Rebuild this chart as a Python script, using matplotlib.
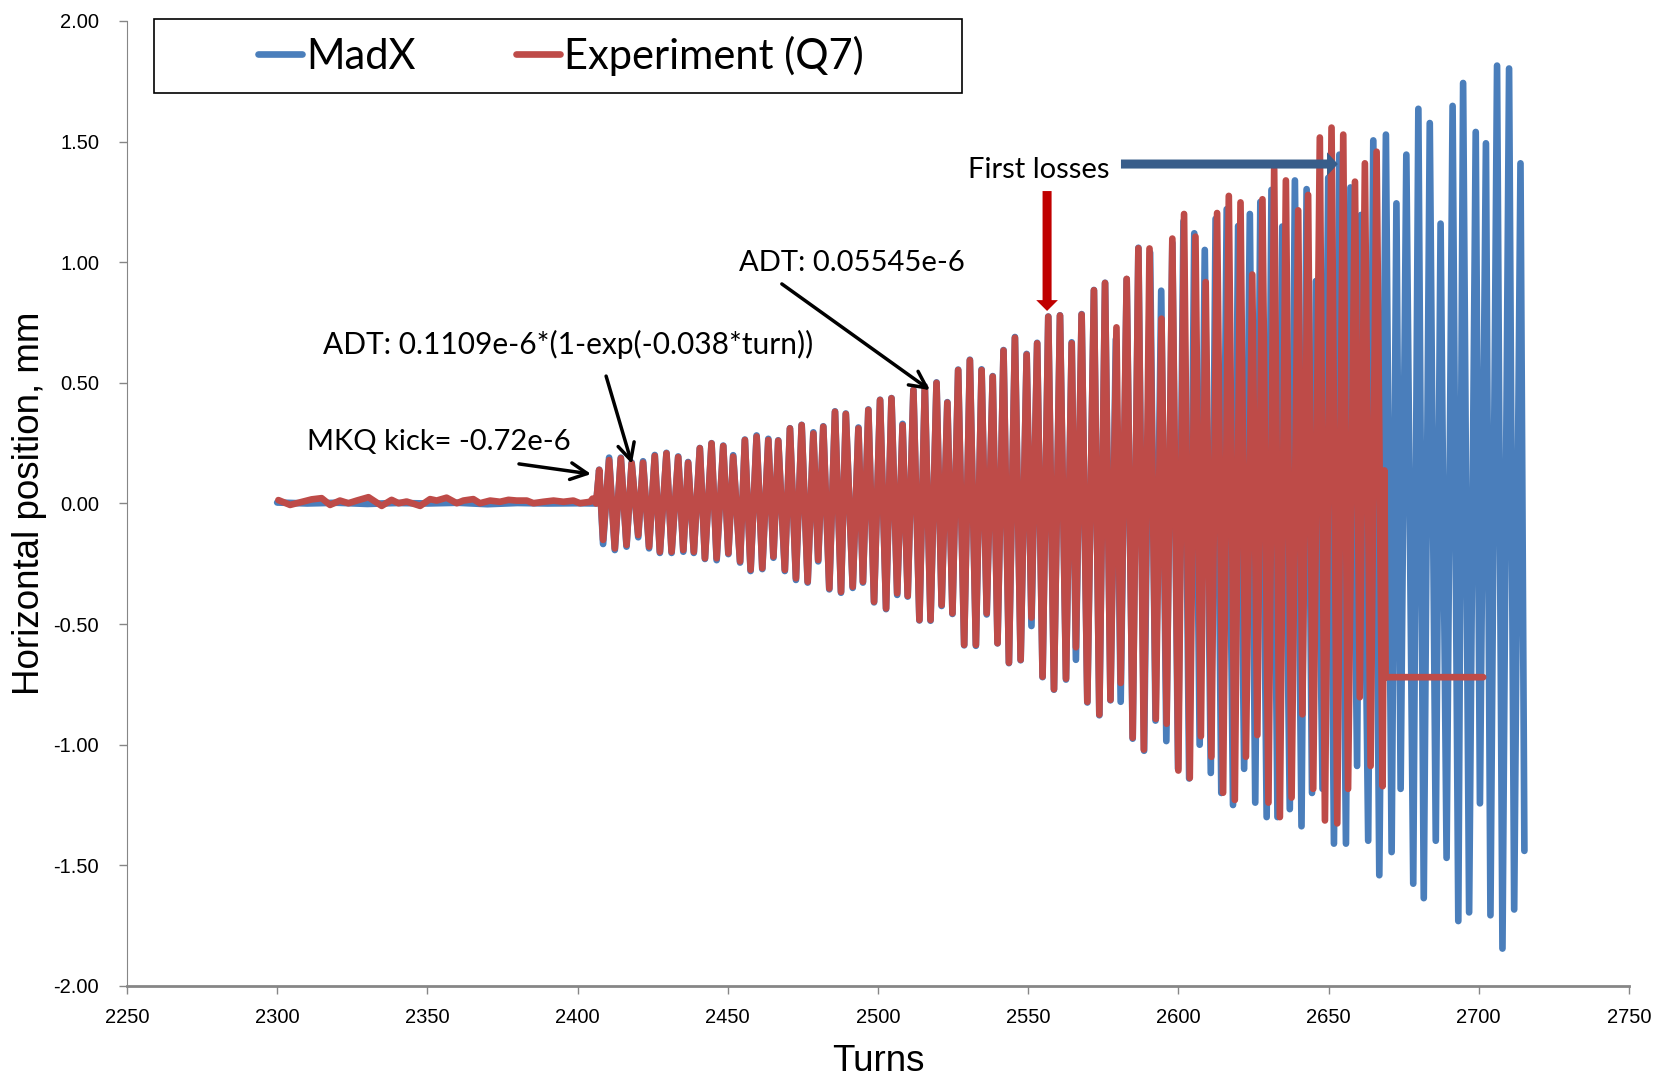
import matplotlib
matplotlib.use("Agg")
import matplotlib.pyplot as plt
from matplotlib.patches import Rectangle

# ---- data (turn, horizontal position in mm) ----
# pre-kick noise of the measured signal
noise_turn = [2300.4, 2304.3, 2308.7, 2311.5, 2314.8, 2317.6, 2320.9, 2323.7, 2326.5, 2330.4,
              2332.6, 2334.8, 2338.1, 2340.4, 2343.1, 2347.6, 2350.9, 2353.1, 2356.4, 2359.8,
              2362.0, 2365.3, 2367.5, 2370.9, 2374.2, 2377.0, 2379.7, 2383.1, 2385.3, 2388.6,
              2392.0, 2395.3, 2398.6, 2400.8, 2404.2, 2405.0, 2406.2]
noise_pos = [0.014, -0.006, 0.008, 0.017, 0.022, -0.006, 0.012, 0.001, 0.012, 0.026,
             0.008, -0.010, 0.015, 0.001, 0.008, -0.010, 0.018, 0.012, 0.024, 0.001,
             0.012, 0.018, 0.001, 0.012, 0.007, 0.015, 0.012, 0.012, 0.001, 0.007,
             0.012, 0.007, 0.012, 0.001, 0.007, 0.020, 0.0]

# pre-kick MadX signal
madx_flat_turn = [2300, 2310, 2320, 2330, 2340, 2350, 2360, 2370, 2380, 2390, 2400, 2406.2]
madx_flat_pos = [0.004, 0.0, 0.003, -0.002, 0.002, 0.0, 0.003, -0.003, 0.002, 0.0, 0.001, 0.0]

# extrema of the experiment (Q7) after the MKQ kick
exp_turn = [2407.2, 2408.5, 2410.5, 2412.4, 2414.4, 2416.3, 2418.0, 2420.2, 2421.8, 2423.8,
            2425.7, 2427.4, 2429.6, 2431.3, 2433.5, 2435.2, 2436.8, 2438.7, 2440.7, 2442.4,
            2444.6, 2446.3, 2448.5, 2450.2, 2451.8, 2454.1, 2455.7, 2457.6, 2459.6, 2461.5,
            2463.5, 2465.2, 2466.8, 2469.0, 2470.7, 2472.7, 2474.6, 2476.6, 2478.5, 2480.1,
            2481.8, 2483.8, 2485.7, 2487.7, 2489.3, 2491.6, 2493.5, 2495.0, 2496.8, 2498.7,
            2500.7, 2502.7, 2504.5, 2506.4, 2508.2, 2509.9, 2511.8, 2513.8, 2515.6, 2517.5,
            2519.5, 2521.2, 2523.1, 2524.8, 2526.7, 2528.7, 2530.6, 2532.6, 2534.5, 2536.2,
            2538.2, 2539.8, 2541.8, 2543.6, 2545.6, 2547.5, 2549.5, 2551.1, 2553.0, 2554.8,
            2556.7, 2558.6, 2560.6, 2562.6, 2564.5, 2565.9, 2567.8, 2569.7, 2571.9, 2573.7,
            2575.6, 2577.4, 2579.4, 2580.8, 2582.8, 2584.8, 2586.7, 2588.5, 2590.4, 2592.5,
            2594.4, 2596.1, 2598.0, 2600.0, 2601.9, 2603.8, 2605.7, 2607.5, 2609.1, 2611.0,
            2612.9, 2614.9, 2616.8, 2618.8, 2620.7, 2622.5, 2624.6, 2626.3, 2628.0, 2630.0,
            2631.9, 2633.8, 2635.8, 2637.7, 2639.9, 2641.3, 2643.2, 2644.9, 2647.1, 2648.8,
            2651.0, 2652.9, 2654.9, 2656.5, 2658.8, 2660.4, 2662.1, 2664.0, 2666.0, 2668.0,
            2668.6, 2669.0, 2701.5]
exp_pos = [0.139, -0.151, 0.180, -0.186, 0.187, -0.172, 0.166, -0.131, 0.169, -0.179,
           0.197, -0.200, 0.208, -0.200, 0.192, -0.193, 0.169, -0.200, 0.229, -0.227,
           0.249, -0.227, 0.238, -0.206, 0.194, -0.240, 0.263, -0.275, 0.277, -0.268,
           0.263, -0.220, 0.260, -0.275, 0.311, -0.310, 0.325, -0.324, 0.290, -0.234,
           0.318, -0.352, 0.380, -0.366, 0.371, -0.345, 0.311, -0.324, 0.388, -0.407,
           0.429, -0.435, 0.436, -0.372, 0.325, -0.383, 0.470, -0.483, 0.484, -0.483,
           0.500, -0.421, 0.418, -0.455, 0.553, -0.586, 0.594, -0.586, 0.553, -0.455,
           0.526, -0.579, 0.634, -0.660, 0.687, -0.648, 0.617, -0.473, 0.664, -0.718,
           0.774, -0.770, 0.779, -0.726, 0.664, -0.596, 0.783, -0.822, 0.884, -0.875,
           0.914, -0.814, 0.730, -0.744, 0.931, -0.971, 1.058, -1.020, 1.057, -0.893,
           0.766, -0.913, 1.098, -1.107, 1.200, -1.138, 1.106, -0.965, 0.918, -1.050,
           1.204, -1.199, 1.275, -1.229, 1.248, -1.050, 0.949, -0.960, 1.261, -1.240,
           1.387, -1.300, 1.339, -1.219, 1.215, -0.874, 1.279, -1.183, 1.517, -1.314,
           1.558, -1.326, 1.529, -1.183, 1.334, -0.803, 1.410, -1.088, 1.458, -1.172,
           0.137, -0.720, -0.720]

# extrema of the MadX simulation after the kick
madx_turn = [2407.2, 2408.5, 2410.5, 2412.4, 2414.4, 2416.3, 2418.0, 2420.2, 2421.8, 2423.8,
             2425.7, 2427.4, 2429.6, 2431.3, 2433.5, 2435.2, 2436.8, 2438.7, 2440.7, 2442.4,
             2444.6, 2446.3, 2448.5, 2450.2, 2451.8, 2454.1, 2455.7, 2457.6, 2459.6, 2461.5,
             2463.5, 2465.2, 2466.8, 2469.0, 2470.7, 2472.7, 2474.6, 2476.6, 2478.5, 2480.1,
             2481.8, 2483.8, 2485.7, 2487.7, 2489.3, 2491.6, 2493.5, 2495.0, 2496.8, 2498.7,
             2500.7, 2502.7, 2504.5, 2506.4, 2508.2, 2509.9, 2511.8, 2513.8, 2515.6, 2517.5,
             2519.5, 2521.2, 2523.1, 2524.8, 2526.7, 2528.7, 2530.6, 2532.6, 2534.5, 2536.2,
             2538.2, 2539.8, 2541.8, 2543.6, 2545.6, 2547.5, 2549.5, 2551.1, 2553.0, 2554.8,
             2556.7, 2558.6, 2560.6, 2562.6, 2564.5, 2565.9, 2567.8, 2569.7, 2571.9, 2573.7,
             2575.6, 2577.4, 2579.2, 2580.8, 2582.8, 2584.8, 2586.7, 2588.6, 2590.6, 2592.4,
             2594.3, 2596.0, 2598.0, 2599.9, 2601.7, 2603.6, 2605.3, 2607.1, 2608.8, 2610.8,
             2612.4, 2614.3, 2616.1, 2618.2, 2619.9, 2621.9, 2623.8, 2625.6, 2627.3, 2629.4,
             2631.0, 2633.0, 2634.6, 2637.1, 2638.8, 2641.0, 2642.7, 2644.5, 2645.8, 2648.0,
             2649.9, 2651.8, 2653.6, 2655.8, 2657.3, 2659.5, 2660.8, 2663.2, 2664.9, 2666.9,
             2669.1, 2671.0, 2672.6, 2674.0, 2675.9, 2678.2, 2679.9, 2681.7, 2683.7, 2685.7,
             2687.3, 2689.3, 2691.3, 2693.2, 2694.8, 2696.8, 2699.0, 2700.4, 2702.4, 2703.9,
             2706.1, 2707.9, 2710.1, 2711.8, 2713.9, 2715.2]
madx_pos = [0.140, -0.168, 0.190, -0.193, 0.190, -0.179, 0.170, -0.140, 0.175, -0.186,
            0.201, -0.205, 0.210, -0.205, 0.195, -0.200, 0.172, -0.205, 0.230, -0.230,
            0.250, -0.235, 0.240, -0.210, 0.200, -0.245, 0.265, -0.280, 0.282, -0.272,
            0.268, -0.225, 0.262, -0.280, 0.312, -0.317, 0.326, -0.328, 0.295, -0.240,
            0.320, -0.356, 0.382, -0.370, 0.373, -0.350, 0.315, -0.328, 0.390, -0.410,
            0.430, -0.438, 0.437, -0.379, 0.330, -0.386, 0.472, -0.485, 0.486, -0.486,
            0.502, -0.425, 0.420, -0.458, 0.555, -0.588, 0.596, -0.590, 0.556, -0.460,
            0.528, -0.580, 0.636, -0.662, 0.690, -0.650, 0.620, -0.508, 0.666, -0.720,
            0.775, -0.772, 0.780, -0.730, 0.668, -0.648, 0.785, -0.825, 0.885, -0.878,
            0.915, -0.816, 0.681, -0.822, 0.930, -0.975, 1.060, -1.025, 1.040, -0.900,
            0.882, -0.985, 1.080, -1.100, 1.170, -1.140, 1.120, -1.000, 1.051, -1.117,
            1.180, -1.200, 1.220, -1.250, 1.150, -1.100, 1.200, -1.240, 1.250, -1.300,
            1.300, -1.300, 1.148, -1.267, 1.339, -1.338, 1.303, -1.200, 0.922, -1.183,
            1.350, -1.410, 1.446, -1.410, 1.310, -1.088, 1.196, -1.398, 1.505, -1.541,
            1.529, -1.445, 1.244, -1.183, 1.446, -1.576, 1.636, -1.636, 1.577, -1.398,
            1.160, -1.469, 1.648, -1.731, 1.743, -1.695, 1.540, -1.243, 1.493, -1.707,
            1.815, -1.845, 1.803, -1.683, 1.410, -1.440]

y_ticks = [-2.0, -1.5, -1.0, -0.5, 0.0, 0.5, 1.0, 1.5, 2.0]
x_ticks = [2250, 2300, 2350, 2400, 2450, 2500, 2550, 2600, 2650, 2700, 2750]

BLUE = "#4A7EBB"
RED = "#BE4B48"
ANNOT_FONT = "Lato"
AXIS_FONT = "Liberation Sans"

fig = plt.figure(figsize=(16.62, 10.81), dpi=100)
ax = fig.add_axes([0.0764, 0.0879, 0.9037, 0.8927])

# MadX first, experiment drawn on top of it
ax.plot(madx_flat_turn + madx_turn, madx_flat_pos + madx_pos, color=BLUE, lw=4.8,
        solid_joinstyle="round", solid_capstyle="round", label="MadX", zorder=2)
ax.plot(noise_turn + exp_turn, noise_pos + exp_pos, color=RED, lw=4.8,
        solid_joinstyle="round", solid_capstyle="round", label="Experiment (Q7)", zorder=3)

ax.set_xlim(2250, 2750)
ax.set_ylim(-2, 2)
ax.set_xticks(x_ticks)
ax.set_yticks(y_ticks)
ax.set_yticklabels([f"{v:.2f}" for v in y_ticks])
for lab in ax.get_xticklabels() + ax.get_yticklabels():
    lab.set_fontfamily(AXIS_FONT)
    lab.set_fontsize(14.5)
ax.tick_params(axis="y", direction="out", length=6, width=1, color="#868686", pad=14)
ax.tick_params(axis="x", direction="out", length=6, width=1, color="#868686", pad=10)

for side in ["top", "right"]:
    ax.spines[side].set_visible(False)
ax.spines["left"].set_color("#868686")
ax.spines["bottom"].set_color("#868686")
ax.spines["bottom"].set_linewidth(2)

ax.set_xlabel("Turns", fontfamily=AXIS_FONT, fontsize=26.5, va="center")
ax.set_ylabel("Horizontal position, mm", fontfamily=AXIS_FONT, fontsize=26.5, va="center")
ax.xaxis.set_label_coords(0.5, -0.078)
ax.yaxis.set_label_coords(-0.0646, 0.5)

# legend with a plain black box around it
ax.add_patch(Rectangle((0.018, 0.925), 0.538, 0.077, transform=ax.transAxes,
                       fill=False, ec="black", lw=1.2, clip_on=False, zorder=5))
ax.legend(loc="center", bbox_to_anchor=(0.289, 0.9637), ncol=2, frameon=False,
          prop={"family": ANNOT_FONT, "size": 30}, handlelength=1.05,
          handletextpad=0.1, columnspacing=2.4)

# annotations
arrow_black = dict(arrowstyle="->,head_length=0.6,head_width=0.3", color="black", lw=2.5,
                   shrinkA=0, shrinkB=0, mutation_scale=20)
ax.annotate("", xy=(2404.5, 0.122), xytext=(2380.5, 0.164), arrowprops=arrow_black)
ax.annotate("", xy=(2418.1, 0.164), xytext=(2409.5, 0.528), arrowprops=arrow_black)
ax.annotate("", xy=(2517.3, 0.47), xytext=(2468.0, 0.91), arrowprops=arrow_black)

ax.text(2309.9, 0.255, "MKQ kick= -0.72e-6", fontfamily=ANNOT_FONT, fontsize=21,
        ha="left", va="center")
ax.text(2315.2, 0.661, "ADT: 0.1109e-6*(1-exp(-0.038*turn))", fontfamily=ANNOT_FONT,
        fontsize=21.5, ha="left", va="center")
ax.text(2453.7, 0.997, "ADT: 0.05545e-6", fontfamily=ANNOT_FONT, fontsize=21,
        ha="left", va="center")
ax.text(2530.0, 1.382, "First losses", fontfamily=ANNOT_FONT, fontsize=21,
        ha="left", va="center")

ax.annotate("", xy=(2556.3, 0.798), xytext=(2556.3, 1.295),
            arrowprops=dict(arrowstyle="simple,head_length=1.2,head_width=2.4,tail_width=1.0",
                            fc="#C00000", ec="none", shrinkA=0, shrinkB=0,
                            mutation_scale=6.5))
ax.annotate("", xy=(2653.1, 1.407), xytext=(2580.9, 1.407),
            arrowprops=dict(arrowstyle="simple,head_length=1.2,head_width=2.6,tail_width=1.0",
                            fc="#385D8A", ec="none", shrinkA=0, shrinkB=0,
                            mutation_scale=6.5))

fig.savefig("out.png", dpi=100)
